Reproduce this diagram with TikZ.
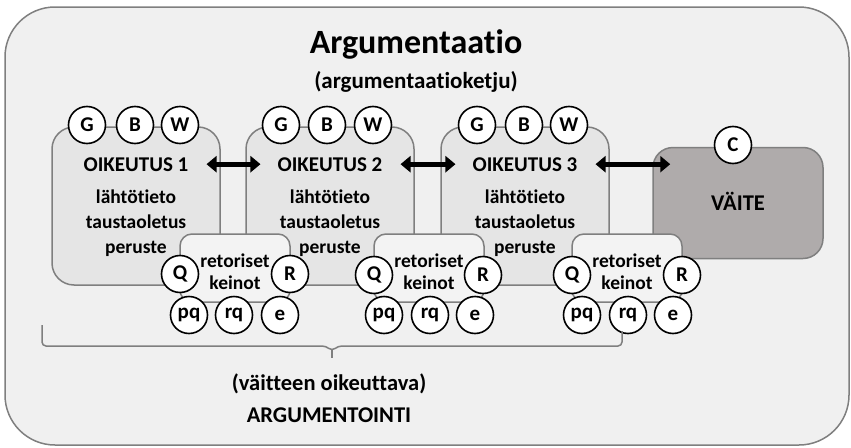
\documentclass[tikz,border=0pt]{standalone}
\usepackage{fontspec}
\setmainfont{Carlito}[Ligatures={NoCommon,NoContextual}]
\usetikzlibrary{arrows.meta}

\definecolor{bggray}{HTML}{F0F0F0}
\definecolor{boxgray}{HTML}{E5E5E5}
\definecolor{keingray}{HTML}{F3F3F3}
\definecolor{edgegray}{HTML}{7F7F7F}
\definecolor{claimgray}{HTML}{AFABAB}

\tikzset{
  okbox/.style={draw=edgegray, fill=boxgray, line width=1.5pt, rounded corners=22pt,
    minimum width=168pt, minimum height=158pt},
  keinobox/.style={draw=edgegray, fill=keingray, line width=1.5pt, rounded corners=12pt,
    minimum width=110pt, minimum height=68pt},
  ball/.style={circle, draw, fill=white, line width=1.6pt, minimum size=37pt, inner sep=0pt,
    font=\bfseries\fontsize{21}{24}\selectfont},
  txt/.style={anchor=base, inner sep=0pt},
  dbl/.style={{Triangle[width=16pt,length=10pt]}-{Triangle[width=16pt,length=10pt]}, line width=5pt},
}

\begin{document}
\begin{tikzpicture}[x=1pt, y=-1pt, font=\bfseries\fontsize{19.5}{22}\selectfont]
	\useasboundingbox (0,0) rectangle (851,447);
	% frame
	\draw[draw=edgegray, fill=bggray, line width=1.5pt, rounded corners=50pt] (5,7) rectangle (849,445);
	
	\node[txt, font=\bfseries\fontsize{34}{38}\selectfont] (title) at (416,53) {Argumentaatio};
	\node[txt, font=\bfseries\fontsize{23}{26}\selectfont] (subtitle) at (416,88) {(argumentaatioketju)};
	
	% oikeutus boxes
	\node[okbox] (o1) at (136,206) {};
	\node[okbox] (o2) at (330,206) {};
	\node[okbox] (o3) at (525,206) {};
	\node[draw=edgegray, fill=claimgray, line width=1.5pt, rounded corners=20pt,
		minimum width=170pt, minimum height=111pt] (v) at (738,203) {};
	
	% retoriset keinot
	\node[keinobox] (k1) at (235,268) {};
	\node[keinobox] (k2) at (429,268) {};
	\node[keinobox] (k3) at (627,268) {};
	
	\node[txt, font=\bfseries\fontsize{21}{24}\selectfont] (t1) at (136,171) {OIKEUTUS 1};
	\node[txt, font=\bfseries\fontsize{21}{24}\selectfont] (t2) at (330,171) {OIKEUTUS 2};
	\node[txt, font=\bfseries\fontsize{21}{24}\selectfont] (t3) at (525,171) {OIKEUTUS 3};
	\node[txt, font=\bfseries\fontsize{22.5}{26}\selectfont] (vt) at (738,210) {VÄITE};
	
	\node[txt] (l1) at (136,203) {lähtötieto};
	\node[txt] (a1) at (136,228) {taustaoletus};
	\node[txt] (p1) at (136,253) {peruste};
	\node[txt] (l2) at (330,203) {lähtötieto};
	\node[txt] (a2) at (330,228) {taustaoletus};
	\node[txt] (p2) at (330,253) {peruste};
	\node[txt] (l3) at (525,203) {lähtötieto};
	\node[txt] (a3) at (525,228) {taustaoletus};
	\node[txt] (p3) at (525,253) {peruste};
	
	\node[txt] (re1) at (235,267) {retoriset};
	\node[txt] (ke1) at (235,289) {keinot};
	\node[txt] (re2) at (429,267) {retoriset};
	\node[txt] (ke2) at (429,289) {keinot};
	\node[txt] (re3) at (627,267) {retoriset};
	\node[txt] (ke3) at (627,289) {keinot};
	
	\draw[dbl, shorten <=18pt, shorten >=17pt] (t1.east) -- (t2.west);
	\draw[dbl, shorten <=18pt, shorten >=17pt] (t2.east) -- (t3.west);
	\draw[dbl, shorten <=18pt, shorten >=-18pt] (t3.east) -- (t3.east -| v.west);
	
	% G B W
	\node[ball] (g1) at (87,125) {G};
	\node[ball] (b1) at (135,125) {B};
	\node[ball] (w1) at (180,125) {W};
	\node[ball] (g2) at (281,125) {G};
	\node[ball] (b2) at (327,125) {B};
	\node[ball] (w2) at (373,125) {W};
	\node[ball] (g3) at (477,125) {G};
	\node[ball] (b3) at (524,125) {B};
	\node[ball] (w3) at (569,125) {W};
	\node[ball] (c) at (733,145) {C};
	
	% Q R
	\node[ball] (q1) at (180,274) {Q};
	\node[ball] (r1) at (290,274) {R};
	\node[ball] (q2) at (374,275) {Q};
	\node[ball] (r2) at (483,275) {R};
	\node[ball] (q3) at (572,275) {Q};
	\node[ball] (r3) at (682,275) {R};
	
	% pq rq e
	\node[ball] (pq1) at (189,315) {pq};
	\node[ball] (rq1) at (234,315) {rq};
	\node[ball] (e1) at (280,315) {e};
	\node[ball] (pq2) at (384,315) {pq};
	\node[ball] (rq2) at (430,315) {rq};
	\node[ball] (e2) at (475,315) {e};
	\node[ball] (pq3) at (582,315) {pq};
	\node[ball] (rq3) at (628,315) {rq};
	\node[ball] (e3) at (673,315) {e};
	
	% brace
	\draw[edgegray, line width=1.5pt, rounded corners=4pt] (42,325) -- (42,346) -- (326,346)
		-- (332,351) -- (338,346) -- (622,346) -- (622,331);
	\draw[edgegray, line width=1.5pt] (332,350) -- (332,358);
	
	\node[txt, font=\bfseries\fontsize{22.5}{26}\selectfont] (arg1) at (329,390) {(väitteen oikeuttava)};
	\node[txt, font=\bfseries\fontsize{22.5}{26}\selectfont] (arg2) at (329,422) {ARGUMENTOINTI};
\end{tikzpicture}
\end{document}
